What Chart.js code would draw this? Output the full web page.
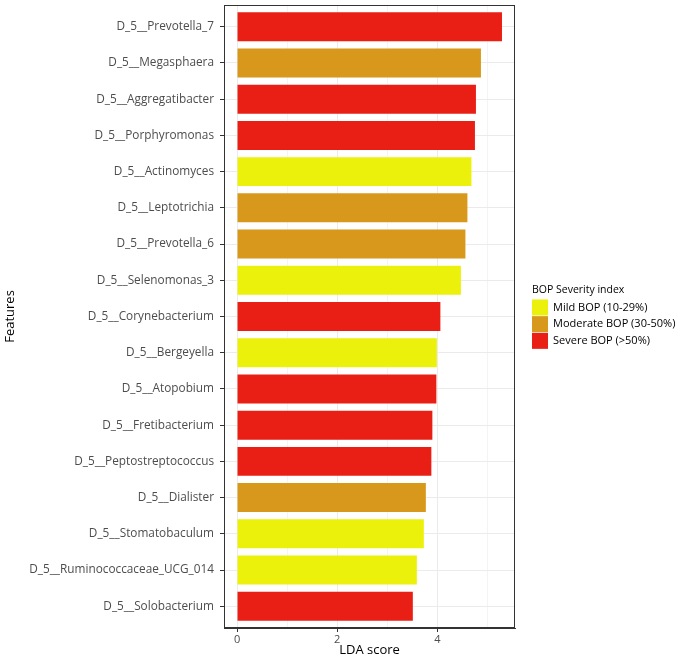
<!DOCTYPE html>
<html>
<head>
<meta charset="utf-8">
<script src="https://cdn.jsdelivr.net/npm/chart.js@4.4.0/dist/chart.umd.min.js"></script>
<style>
  html, body { margin: 0; padding: 0; background: #fff; }
  canvas { display: block; }
</style>
</head>
<body>
<canvas id="myChart" width="682" height="658"></canvas>
<script>
// data
const features = [
  "D_5__Prevotella_7", "D_5__Megasphaera", "D_5__Aggregatibacter", "D_5__Porphyromonas",
  "D_5__Actinomyces", "D_5__Leptotrichia", "D_5__Prevotella_6", "D_5__Selenomonas_3",
  "D_5__Corynebacterium", "D_5__Bergeyella", "D_5__Atopobium", "D_5__Fretibacterium",
  "D_5__Peptostreptococcus", "D_5__Dialister", "D_5__Stomatobaculum",
  "D_5__Ruminococcaceae_UCG_014", "D_5__Solobacterium"
];
const ldaScores = [5.29, 4.87, 4.77, 4.75, 4.68, 4.60, 4.56, 4.47, 4.06, 3.99, 3.98, 3.90, 3.88, 3.77, 3.73, 3.59, 3.51];
// 0 = mild, 1 = moderate, 2 = severe
const severity = [2, 1, 2, 2, 0, 1, 1, 0, 2, 0, 2, 2, 2, 1, 0, 0, 2];
const severityLevels = ["Mild BOP (10-29%)", "Moderate BOP (30-50%)", "Severe BOP (>50%)"];
const severityColors = ["#ecf10b", "#d8981c", "#e91e14"];
const legendTitle = "BOP Severity index";
const xTicks = [0, 1, 2, 3, 4, 5];

const FONT = '"Open Sans", "Noto Sans", sans-serif';

// draws top/right panel border
const panelBorder = {
  id: 'panelBorder',
  afterDraw(chart) {
    const {ctx, chartArea} = chart;
    ctx.save();
    ctx.strokeStyle = '#333';
    ctx.lineWidth = 1;
    ctx.strokeRect(chartArea.left + 0.5, chartArea.top + 0.5, chartArea.width - 1, chartArea.height - 1);
    ctx.restore();
  }
};

// ggplot style legend on the right
const sideLegend = {
  id: 'sideLegend',
  afterDraw(chart) {
    const {ctx, chartArea} = chart;
    const x = chartArea.right + 17;
    const box = 16, step = 16.7, titleH = 16;
    const total = titleH + severityLevels.length * step;
    let y = (chartArea.top + chartArea.bottom) / 2 - total / 2;
    ctx.save();
    ctx.textAlign = 'left';
    ctx.textBaseline = 'middle';
    ctx.fillStyle = '#000';
    ctx.font = '10.5px ' + FONT;
    ctx.fillText(legendTitle, x, y + titleH / 2 - 1);
    y += titleH;
    ctx.font = '11px ' + FONT;
    severityLevels.forEach((lvl, i) => {
      ctx.fillStyle = severityColors[i];
      ctx.fillRect(x, y + i * step, box, box);
      ctx.fillStyle = '#000';
      ctx.fillText(lvl, x + box + 5, y + i * step + box / 2);
    });
    ctx.restore();
  }
};

const ctx = document.getElementById('myChart').getContext('2d');
new Chart(ctx, {
  type: 'bar',
  data: {
    datasets: [{
      data: ldaScores.map((v, i) => ({ x: v, y: i })),
      backgroundColor: severity.map(s => severityColors[s]),
      borderWidth: 0,
      barPercentage: 0.8,
      categoryPercentage: 1
    }]
  },
  options: {
    indexAxis: 'y',
    responsive: false,
    animation: false,
    layout: { padding: { top: 5, right: 167, left: 0, bottom: 0 } },
    plugins: {
      legend: { display: false },
      tooltip: { enabled: false }
    },
    scales: {
      x: {
        type: 'linear',
        min: -0.26,
        max: 5.55,
        afterBuildTicks: s => { s.ticks = xTicks.map(v => ({ value: v })); },
        afterFit: s => { s.height = 30; s.paddingLeft = 0; s.paddingRight = 0; },
        ticks: {
          color: '#4d4d4d',
          font: { family: FONT, size: 11 },
          padding: 1,
          callback: v => (v % 2 === 0 ? String(v) : '')
        },
        grid: {
          color: c => (c.tick && c.tick.value % 2 === 0 ? '#ebebeb' : '#f4f4f4'),
          tickColor: c => (c.tick && c.tick.value % 2 === 0 ? '#333' : 'rgba(0,0,0,0)'),
          tickLength: 4
        },
        border: { color: '#333', width: 1 },
        title: {
          display: true,
          text: 'LDA score',
          color: '#000',
          font: { family: FONT, size: 13 },
          padding: 0
        }
      },
      y: {
        type: 'linear',
        reverse: true,
        offset: false,
        min: -0.6,
        max: features.length - 0.4,
        afterBuildTicks: s => { s.ticks = features.map((f, i) => ({ value: i })); },
        afterFit: s => { s.width = 224; s.paddingTop = 0; s.paddingBottom = 0; },
        ticks: {
          color: '#4d4d4d',
          font: { family: FONT, size: 11.8 },
          padding: 6,
          autoSkip: false,
          callback: v => features[v]
        },
        grid: {
          color: '#ebebeb',
          tickColor: '#333',
          tickLength: 4,
          offset: false
        },
        border: { color: '#333', width: 1 },
        title: {
          display: true,
          text: 'Features',
          color: '#000',
          font: { family: FONT, size: 13 },
          padding: 2
        }
      }
    }
  },
  plugins: [panelBorder, sideLegend]
});
</script>
</body>
</html>
